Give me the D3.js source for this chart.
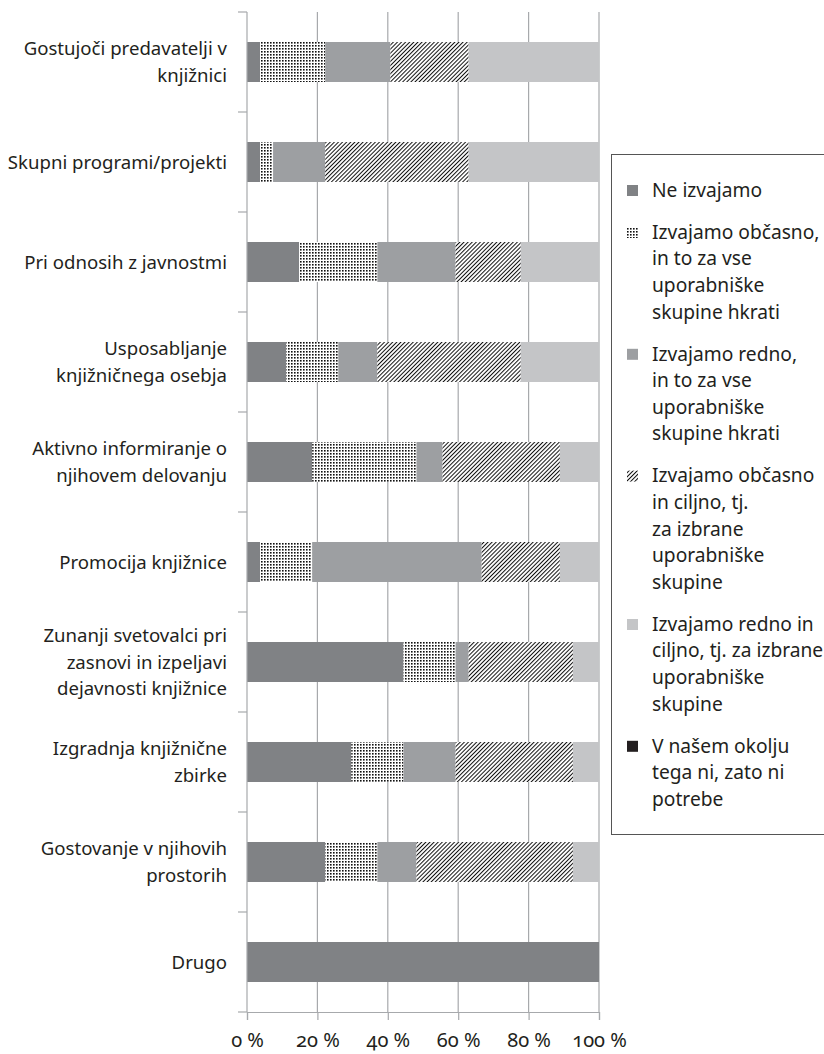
<!DOCTYPE html>
<html lang="sl">
  <head>
    <meta charset="UTF-8">
    <title>Sodelovanje s partnerji</title>
    <style>
      body { margin: 0; background: #fff; }
      text { font-family: "Noto Sans", sans-serif; fill: #231f20; }
    </style>
  </head>
  <body>
    <div id="chart-container"></div>
    <script src="https://d3js.org/d3.v7.min.js"></script>
    <script>
      // categories (top to bottom), "|" breaks a label into lines
      const categories = [
        "Gostujoči predavatelji v|knjižnici",
        "Skupni programi/projekti",
        "Pri odnosih z javnostmi",
        "Usposabljanje|knjižničnega osebja",
        "Aktivno informiranje o|njihovem delovanju",
        "Promocija knjižnice",
        "Zunanji svetovalci pri|zasnovi in izpeljavi|dejavnosti knjižnice",
        "Izgradnja knjižnične|zbirke",
        "Gostovanje v njihovih|prostorih",
        "Drugo"
      ];

      const seriesNames = [
        "Ne izvajamo",
        "Izvajamo občasno,|in to za vse|uporabniške|skupine hkrati",
        "Izvajamo redno,|in to za vse|uporabniške|skupine hkrati",
        "Izvajamo občasno|in ciljno, tj.|za izbrane|uporabniške|skupine",
        "Izvajamo redno in|ciljno, tj. za izbrane|uporabniške|skupine",
        "V našem okolju|tega ni, zato ni|potrebe"
      ];

      // shares in % per category
      const neIzvajamo    = [3.7, 3.7, 14.8, 11.1, 18.5, 3.7, 44.4, 29.6, 22.2, 100];
      const obcasnoVse    = [18.5, 3.7, 22.2, 14.8, 29.6, 14.8, 14.8, 14.8, 14.8, 0];
      const rednoVse      = [18.5, 14.8, 22.2, 11.1, 7.4, 48.1, 3.7, 14.8, 11.1, 0];
      const obcasnoCiljno = [22.2, 40.7, 18.5, 40.7, 33.3, 22.2, 29.6, 33.3, 44.4, 0];
      const rednoCiljno   = [37.0, 37.0, 22.2, 22.2, 11.1, 11.1, 7.4, 7.4, 7.4, 0];
      const niPotrebe     = [0, 0, 0, 0, 0, 0, 0, 0, 0, 0];

      const xTicks = [0, 0.2, 0.4, 0.6, 0.8, 1];

      const seriesValues = [neIzvajamo, obcasnoVse, rednoVse, obcasnoCiljno, rednoCiljno, niPotrebe];
      const keys = d3.range(seriesValues.length);
      const rows = categories.map((c, i) => {
        const r = { cat: c };
        keys.forEach(k => { r[k] = seriesValues[k][i]; });
        return r;
      });

      const svg = d3.select("#chart-container")
        .append("svg")
        .attr("width", 824)
        .attr("height", 1054);

      // fill patterns
      const defs = svg.append("defs");
      const dots = defs.append("pattern")
        .attr("id", "dots")
        .attr("patternUnits", "userSpaceOnUse")
        .attr("width", 3).attr("height", 3);
      dots.append("rect").attr("width", 3).attr("height", 3).attr("fill", "#fff");
      dots.append("rect").attr("width", 1.6).attr("height", 1.6).attr("fill", "#111");

      const hatch = defs.append("pattern")
        .attr("id", "hatch")
        .attr("patternUnits", "userSpaceOnUse")
        .attr("width", 2.9).attr("height", 2.9)
        .attr("patternTransform", "rotate(45)");
      hatch.append("rect").attr("width", 2.9).attr("height", 2.9).attr("fill", "#fff");
      hatch.append("rect").attr("width", 1).attr("height", 2.9).attr("fill", "#111");

      const fills = ["#808285", "url(#dots)", "#9d9fa2", "url(#hatch)", "#c4c5c7", "#231f20"];

      // scales
      const x = d3.scaleLinear().domain([0, 1]).range([247, 599]);
      const y = d3.scaleBand().domain(categories).range([12, 1012])
        .paddingInner(0.6).paddingOuter(0.3);
      const step = y.step();

      const gridColor = "#a7a9ac";

      // vertical gridlines
      svg.append("g")
        .selectAll("line")
        .data(xTicks.slice(1))
        .join("line")
        .attr("x1", d => x(d)).attr("x2", d => x(d))
        .attr("y1", 12).attr("y2", 1012)
        .attr("stroke", gridColor)
        .attr("stroke-width", 1.2);

      // stacked bars
      const stacked = d3.stack().keys(keys).offset(d3.stackOffsetExpand)(rows);
      svg.append("g")
        .selectAll("g")
        .data(stacked)
        .join("g")
        .attr("fill", (d, i) => fills[i])
        .selectAll("rect")
        .data(d => d)
        .join("rect")
        .attr("x", d => x(d[0]))
        .attr("width", d => x(d[1]) - x(d[0]))
        .attr("y", d => y(d.data.cat))
        .attr("height", y.bandwidth());

      // x-axis
      const xAxis = svg.append("g")
        .attr("transform", "translate(0,1012)")
        .call(d3.axisBottom(x).tickValues(xTicks).tickSize(8).tickPadding(13)
          .tickFormat(d => Math.round(d * 100) + " %"));
      xAxis.select(".domain").attr("stroke", gridColor).attr("stroke-width", 1.2);
      xAxis.selectAll(".tick line").attr("stroke", gridColor).attr("stroke-width", 1.2);
      xAxis.selectAll(".tick text")
        .style("font-family", "'Noto Sans', sans-serif")
        .style("font-variant-numeric", "oldstyle-nums")
        .style("font-size", "20px")
        .attr("fill", "#231f20");

      // y-axis line and boundary ticks
      svg.append("line")
        .attr("x1", 247).attr("x2", 247)
        .attr("y1", 12).attr("y2", 1012)
        .attr("stroke", gridColor).attr("stroke-width", 1.2);
      svg.append("g")
        .selectAll("line")
        .data(d3.range(categories.length + 1))
        .join("line")
        .attr("x1", 238).attr("x2", 247)
        .attr("y1", i => 12 + i * step).attr("y2", i => 12 + i * step)
        .attr("stroke", gridColor).attr("stroke-width", 1.2);

      // category labels
      const lineH = 26.6;
      const labels = svg.append("g")
        .selectAll("text")
        .data(categories)
        .join("text")
        .attr("text-anchor", "end")
        .style("font-size", "18.6px")
        .attr("transform", d => "translate(227," + (y(d) + y.bandwidth() / 2) + ")");
      labels.each(function(d) {
        const lines = d.split("|");
        const t = d3.select(this);
        lines.forEach((l, j) => {
          t.append("tspan")
            .attr("x", 0)
            .attr("y", (j - (lines.length - 1) / 2) * lineH)
            .attr("dy", "0.35em")
            .text(l);
        });
      });

      // legend
      const legend = svg.append("g");
      legend.append("rect")
        .attr("x", 611.5).attr("y", 154.5)
        .attr("width", 230).attr("height", 680)
        .attr("fill", "none")
        .attr("stroke", "#555")
        .attr("stroke-width", 1);

      let ly = 190;
      seriesNames.forEach((name, i) => {
        const lines = name.split("|");
        legend.append("rect")
          .attr("x", 627).attr("y", ly - 5)
          .attr("width", 11).attr("height", 11)
          .attr("fill", fills[i]);
        const t = legend.append("text")
          .attr("x", 652)
          .style("font-size", "19.2px");
        lines.forEach((l, j) => {
          t.append("tspan")
            .attr("x", 652)
            .attr("y", ly + j * lineH)
            .attr("dy", "0.35em")
            .text(l);
        });
        ly += (lines.length - 1) * lineH + 42;
      });
    </script>
  </body>
</html>
